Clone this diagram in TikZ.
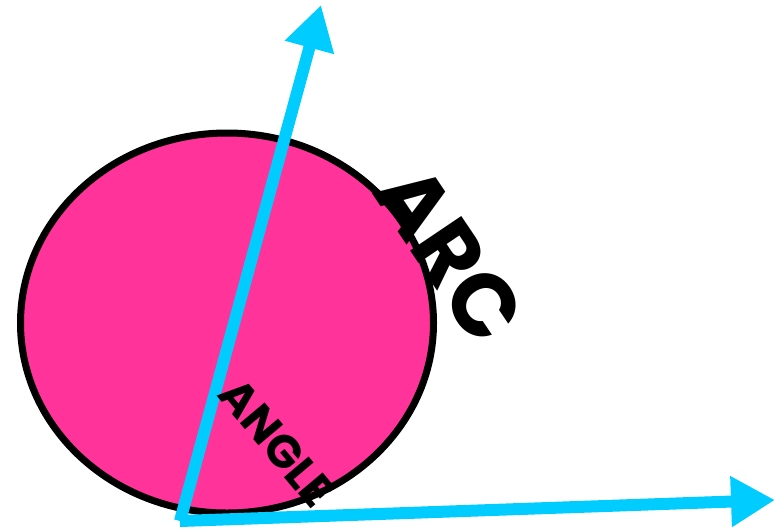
\documentclass[tikz,border=0pt]{standalone}
\usepackage{fontspec}
\newfontfamily\pop{Poppins}
\usetikzlibrary{shapes.geometric,arrows.meta}
\definecolor{pinkfill}{HTML}{FF3399}
\definecolor{cyanline}{HTML}{00CCFF}
\tikzset{
  blob/.style={ellipse, draw=black, line width=7pt, fill=pinkfill, inner sep=0pt, minimum width=413pt, minimum height=380pt},
  ray/.style={draw=cyanline, line width=12pt, -{Triangle[length=44pt,width=48pt]}},
  lbl/.style={text=black, inner sep=0pt}
}
\begin{document}
\begin{tikzpicture}[x=1pt,y=-1pt]
\useasboundingbox (0,0) rectangle (775,531);
\node[blob] (circ) at (227,323) {};
\coordinate (o) at (180,521);
\coordinate (t1) at (321,5);
\coordinate (t2) at (775,500);
\draw[ray] (o) -- (t1);
\draw[ray] (o) -- (t2);
\node[lbl, rotate=-56, font=\pop\bfseries\fontsize{88}{88}\selectfont] (arc) at (450,254) {ARC};
\node[lbl, rotate=-50, font=\pop\bfseries\fontsize{46}{46}\selectfont] (ang) at (277,443) {ANGLE};
\end{tikzpicture}
\end{document}
